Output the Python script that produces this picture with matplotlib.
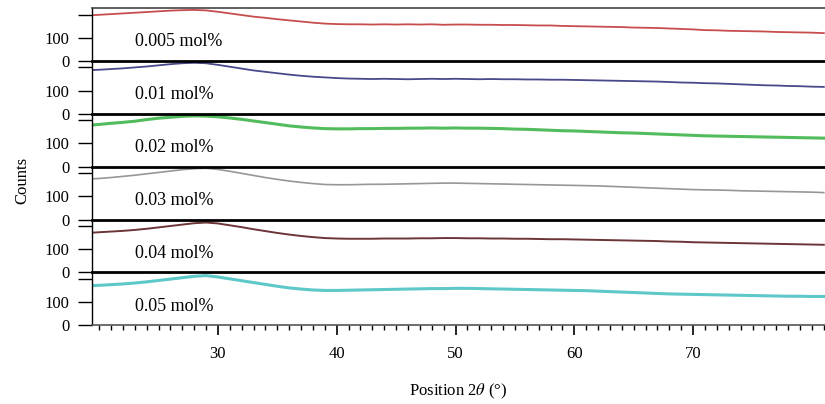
import numpy as np
import matplotlib
matplotlib.use('Agg')
import matplotlib.pyplot as plt
from matplotlib.ticker import FixedLocator, MultipleLocator

plt.rcParams['font.family'] = ['Liberation Serif', 'DejaVu Serif']
plt.rcParams['mathtext.fontset'] = 'stix'

# 2theta sampling (degrees)
two_theta = np.arange(19, 82)

c_005 = [196, 199, 202, 205, 208, 211, 214, 217, 219, 220, 218, 212, 205, 198, 191, 186,
         180, 175, 170, 165, 161, 159, 158, 158, 157, 158, 157, 158, 157, 158, 156, 157,
         157, 156, 156, 155, 155, 154, 153, 153, 151, 150, 149, 148, 147, 146, 144, 143,
         142, 140, 138, 136, 133, 132, 130, 129, 128, 127, 125, 124, 123, 122, 120]
c_01 = [188, 190, 193, 196, 200, 204, 209, 214, 218, 220, 218, 211, 203, 195, 187, 181,
        175, 169, 164, 160, 157, 154, 152, 151, 150, 151, 150, 149, 150, 151, 150, 151,
        150, 149, 150, 149, 149, 148, 148, 147, 147, 146, 145, 144, 143, 142, 141, 140,
        139, 137, 135, 134, 132, 131, 129, 127, 125, 123, 122, 120, 119, 117, 116]
c_02 = [178, 182, 187, 191, 196, 203, 209, 213, 217, 219, 218, 215, 210, 204, 197, 190,
        183, 176, 171, 167, 164, 163, 163, 164, 164, 165, 165, 166, 166, 167, 166, 167,
        166, 166, 165, 164, 162, 161, 159, 157, 155, 154, 152, 150, 148, 146, 145, 143,
        141, 139, 137, 135, 133, 132, 131, 130, 129, 128, 127, 126, 125, 124, 123]
c_03 = [174, 177, 181, 186, 191, 197, 203, 209, 215, 219, 221, 216, 208, 199, 190, 181,
        173, 166, 160, 155, 151, 150, 150, 151, 152, 152, 153, 154, 155, 156, 157, 157,
        156, 155, 154, 153, 152, 151, 150, 149, 148, 147, 146, 145, 143, 141, 139, 137,
        135, 133, 131, 129, 128, 127, 126, 124, 123, 122, 121, 120, 119, 118, 116]
c_04 = [170, 173, 176, 179, 183, 188, 194, 200, 206, 212, 215, 211, 203, 195, 186, 178,
        170, 163, 157, 152, 148, 146, 145, 145, 145, 146, 146, 146, 147, 147, 148, 148,
        147, 147, 146, 146, 145, 145, 144, 143, 143, 142, 141, 140, 139, 138, 137, 136,
        135, 133, 132, 130, 129, 128, 127, 126, 125, 124, 123, 122, 121, 120, 119]
c_05 = [170, 172, 175, 178, 182, 187, 193, 199, 205, 211, 214, 208, 200, 192, 184, 176,
        168, 161, 156, 152, 150, 150, 151, 152, 153, 154, 155, 156, 157, 158, 158, 159,
        159, 158, 157, 156, 155, 154, 153, 152, 151, 150, 149, 147, 145, 143, 141, 139,
        137, 135, 134, 133, 132, 131, 130, 129, 128, 127, 126, 125, 125, 124, 124]

series = [c_005, c_01, c_02, c_03, c_04, c_05]
labels = ['0.005 mol%', '0.01 mol%', '0.02 mol%', '0.03 mol%', '0.04 mol%', '0.05 mol%']
colors = ['#c23a3a', '#34347e', '#3fb44a', '#8c8c8c', '#5c1f22', '#4cc2c4']
widths = [1.3, 1.3, 2.2, 1.2, 1.4, 2.2]
major_x = [30, 40, 50, 60, 70]

fig, axes = plt.subplots(6, 1, sharex=True, figsize=(8.25, 4.04), dpi=100)
fig.subplots_adjust(left=0.1115, right=1.0, top=0.980, bottom=0.195, hspace=0)

for i, ax in enumerate(axes):
    ax.plot(two_theta, series[i], color=colors[i], lw=widths[i], alpha=0.9)
    ax.set_ylim(0, 228)
    ax.set_xlim(19.4, 81.1)
    ax.set_yticks([0, 100, 200])
    ax.set_yticklabels(['0', '100', ''])
    ax.tick_params(axis='y', direction='out', length=10, width=1.0, pad=6,
                   labelsize=12, colors='black')
    ax.text(0.058, 0.36, labels[i], transform=ax.transAxes, fontsize=13,
            va='center', ha='left')
    ax.spines['right'].set_visible(False)
    ax.spines['left'].set_linewidth(1.0)
    ax.spines['top'].set_linewidth(2.0)
    ax.spines['bottom'].set_visible(False)
    if i == 0:
        ax.spines['top'].set_linewidth(1.2)
        ax.spines['top'].set_color('#444444')
    if i < 5:
        ax.tick_params(axis='x', which='both', bottom=False, labelbottom=False)

bottom_ax = axes[-1]
bottom_ax.spines['bottom'].set_visible(True)
bottom_ax.spines['bottom'].set_color('#555555')
bottom_ax.spines['bottom'].set_linewidth(1.2)
bottom_ax.xaxis.set_major_locator(FixedLocator(major_x))
bottom_ax.xaxis.set_minor_locator(MultipleLocator(1))
bottom_ax.tick_params(axis='x', which='major', direction='out', length=7, width=1.2,
                      pad=8, labelsize=12)
bottom_ax.tick_params(axis='x', which='minor', direction='out', length=3.5, width=1.0)
bottom_ax.set_xlabel(r'Position 2$\theta$ (°)', fontsize=12, labelpad=14)

fig.text(0.027, 1 - 180 / 404, 'Counts', rotation=90, fontsize=12,
         ha='center', va='center')

fig.savefig('out.png', dpi=100)
